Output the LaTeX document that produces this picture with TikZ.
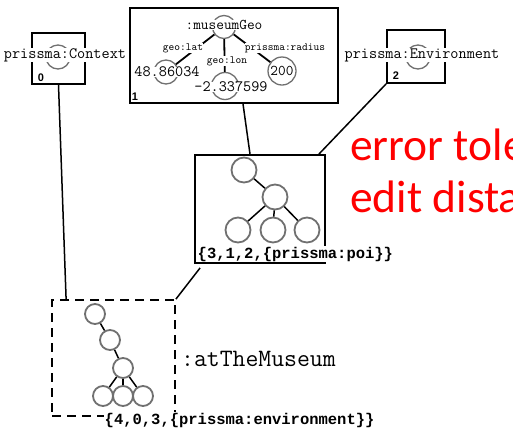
\documentclass[tikz,border=0pt]{standalone}
\usepackage{fontspec}
\setmainfont{Liberation Sans}
\newfontfamily\monobold{Liberation Mono}
\newfontfamily\calibri{Carlito}
\usetikzlibrary{calc}
\definecolor{circgray}{RGB}{112,112,112}
\begin{document}
\begin{tikzpicture}[x=1pt,y=-1pt,
  box/.style={draw,line width=1.8pt,inner sep=0pt},
  res/.style={circle,draw=circgray,line width=1.3pt,inner sep=0pt},
  vert/.style={circle,draw=circgray,fill=white,line width=1.8pt,inner sep=0pt},
  link/.style={line width=1.5pt},
  txt/.style={fill=white,inner sep=0.3pt,font=\ttfamily\fontsize{15.8}{16}\selectfont},
  prop/.style={fill=white,inner sep=0.3pt,font=\ttfamily\fontsize{10.9}{11}\selectfont},
  idx/.style={inner sep=0pt,font=\bfseries\fontsize{11}{12}\selectfont},
  sig/.style={fill=white,inner sep=0.5pt,anchor=base west,font=\monobold\bfseries\fontsize{15.5}{16}\selectfont}]
\useasboundingbox (0,0) rectangle (513,432);
\clip (0,0) rectangle (513,432);
\node[box,minimum width=53pt,minimum height=51pt] (ctx) at (58.5,58.5) {};
\node[box,minimum width=208pt,minimum height=95pt] (geo) at (234,55.5) {};
\node[box,minimum width=58pt,minimum height=53pt] (env) at (416,56.5) {};
\node[box,minimum width=130pt,minimum height=108pt] (poi) at (260,209) {};
\node[box,dash pattern=on 9pt off 6pt,minimum width=123pt,minimum height=116pt] (dash) at (113.5,358) {};
\draw[link] (ctx.south) -- ($(dash.north west)+(15,0)$);
\draw[link] ($(geo.south)+(9,0)$) -- ($(poi.north)+(-10,0)$);
\draw[link] (env.south west) -- ($(poi.north east)+(-7,0)$);
\draw[link] ($(poi.south west)+(6,4)$) -- (dash.north east);
\node[res,minimum size=24pt] (ctxc) at (58,57) {};
\node[txt] (ctxt) at (65,55) {prissma:Context};
\node[idx] (ctxn) at (41,78) {0};
\node[res,minimum size=24pt] (envc) at (418,57) {};
\node[txt] (envt) at (422,55) {prissma:Environment};
\node[idx] (envn) at (396,76) {2};
\node[res,minimum size=23pt] (geoc) at (224,27) {};
\node[res,minimum size=24pt] (latc) at (166,72) {};
\node[res,minimum size=27pt] (lonc) at (225,86) {};
\node[res,minimum size=28pt] (radc) at (282,71) {};
\draw[link,line width=1.8pt] (geoc) -- (latc);
\draw[link,line width=1.8pt] (geoc) -- (lonc);
\draw[link,line width=1.8pt] (geoc) -- (radc);
\node[txt,font=\ttfamily\fontsize{14.9}{15}\selectfont] (geot) at (224,25) {:museumGeo};
\node[txt] (latt) at (167,72) {48.86034};
\node[txt] (lont) at (231,87) {-2.337599};
\node[txt,fill=none,font=\ttfamily\fontsize{14.9}{15}\selectfont] (radt) at (282,71) {200};
\node[prop] (latp) at (183,48) {geo:lat};
\node[prop] (lonp) at (227,61) {geo:lon};
\node[prop] (radp) at (285,48) {prissma:radius};
\node[idx] (geon) at (135,97) {1};
\node[vert,minimum size=25pt] (p1) at (244,170) {};
\node[vert,minimum size=25pt] (p2) at (275,197) {};
\node[vert,minimum size=25pt] (p3) at (238,230) {};
\node[vert,minimum size=25pt] (p4) at (273,230) {};
\node[vert,minimum size=25pt] (p5) at (307,230) {};
\draw[link] (p1) -- (p2);
\draw[link] (p2) -- (p3);
\draw[link] (p2) -- (p4);
\draw[link] (p2) -- (p5);
\node[sig] (poil) at (197,258) {\{3,1,2,\{prissma:poi\}\}};
\node[vert,minimum size=20pt] (d1) at (95,314) {};
\node[vert,minimum size=20pt] (d2) at (110,340) {};
\node[vert,minimum size=20pt] (d3) at (123,368) {};
\node[vert,minimum size=20pt] (d4) at (103,396) {};
\node[vert,minimum size=20pt] (d5) at (123,396) {};
\node[vert,minimum size=20pt] (d6) at (143,396) {};
\draw[link] (d1) -- (d2);
\draw[link] (d2) -- (d3);
\draw[link] (d3) -- (d4);
\draw[link] (d3) -- (d5);
\draw[link] (d3) -- (d6);
\node[anchor=base west,inner sep=0pt,font=\ttfamily\fontsize{25}{26}\selectfont] (museum) at (181,366) {:atTheMuseum};
\node[sig] (dashl) at (104,424) {\{4,0,3,\{prissma:environment\}\}};
\node[anchor=base west,inner sep=0pt,text=red,font=\calibri\fontsize{45.5}{52}\selectfont] (err) at (350,160) {error tolerance};
\node[anchor=base west,inner sep=0pt,text=red,font=\calibri\fontsize{45.5}{52}\selectfont] (edit) at (350,212) {edit distance};
\end{tikzpicture}
\end{document}
